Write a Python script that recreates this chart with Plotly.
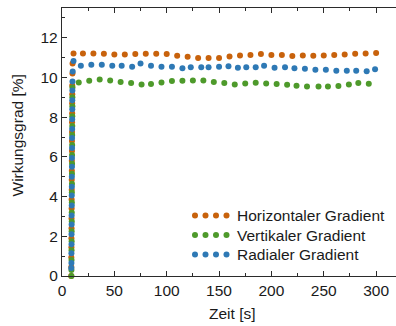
import plotly.graph_objects as go

# --- data -----------------------------------------------------------------
series_names = ["Horizontaler Gradient", "Vertikaler Gradient", "Radialer Gradient"]
series_colors = ["#C8620C", "#4E9A2B", "#2E79B5"]

# start-up ramp (fast sampling while the efficiency rises)
horiz_ramp_t = [8.8, 8.9, 8.9, 9.0, 9.0, 9.1, 9.1, 9.2, 9.2, 9.3, 9.3, 9.4,
                9.4, 9.5, 9.5, 9.6, 9.6, 9.7, 9.7, 9.8, 9.8, 10.0, 10.1]
horiz_ramp_v = [0.0, 0.45, 0.95, 1.45, 1.9, 2.4, 2.9, 3.4, 3.85, 4.35, 4.85, 5.3,
                5.8, 6.3, 6.8, 7.25, 7.75, 8.2, 8.7, 9.15, 9.6, 10.2, 10.7]
vert_ramp_t = [9.0, 9.0, 9.1, 9.1, 9.2, 9.2, 9.3, 9.3, 9.4, 9.4, 9.5, 9.5,
               9.6, 9.6, 9.7, 9.7, 9.8, 9.8, 9.9, 9.9, 10.0]
vert_ramp_v = [0.0, 0.3, 0.8, 1.3, 1.75, 2.25, 2.75, 3.2, 3.7, 4.2, 4.65, 5.15,
               5.65, 6.1, 6.6, 7.1, 7.55, 8.05, 8.55, 9.0, 9.5]
rad_ramp_t = [8.9, 9.0, 9.0, 9.1, 9.1, 9.2, 9.2, 9.3, 9.3, 9.4, 9.4, 9.5,
              9.5, 9.6, 9.6, 9.7, 9.7, 9.8, 9.8, 9.9, 10.0, 10.2]
rad_ramp_v = [0.4, 0.65, 1.15, 1.6, 2.1, 2.6, 3.05, 3.55, 4.05, 4.5, 5.0, 5.5,
              5.95, 6.45, 6.95, 7.4, 7.9, 8.4, 8.85, 9.35, 9.8, 10.3]

# steady operation
horiz_t = [11, 20, 30, 40, 50, 60, 70, 80, 90, 100, 110, 120, 130, 140, 150,
           160, 170, 180, 190, 200, 210, 220, 230, 240, 250, 260, 270, 280, 290, 300]
horiz_v = [11.21, 11.21, 11.21, 11.20, 11.16, 11.16, 11.18, 11.20, 11.20, 11.18,
           11.09, 11.04, 10.98, 10.98, 10.98, 11.06, 11.11, 11.13, 11.18, 11.13,
           11.13, 11.08, 11.11, 11.09, 11.11, 11.13, 11.16, 11.20, 11.21, 11.23]
vert_t = [16, 26, 36, 46, 56, 66, 76, 85, 95, 105, 115, 125, 135, 145, 155,
          165, 175, 185, 195, 205, 215, 224, 234, 245, 254, 264, 274, 283, 293]
vert_v = [9.75, 9.83, 9.90, 9.85, 9.77, 9.72, 9.65, 9.67, 9.75, 9.82, 9.83, 9.85,
          9.85, 9.77, 9.72, 9.65, 9.70, 9.73, 9.70, 9.67, 9.63, 9.58, 9.55, 9.55,
          9.55, 9.57, 9.65, 9.72, 9.68]
rad_t = [11, 18, 28, 38, 48, 57, 67, 75, 85, 95, 105, 115, 123, 133, 140, 150,
         159, 168, 176, 185, 193, 203, 213, 222, 232, 242, 252, 262, 272, 281, 291, 299]
rad_v = [10.83, 10.59, 10.64, 10.64, 10.59, 10.59, 10.54, 10.71, 10.59, 10.54,
         10.54, 10.47, 10.52, 10.51, 10.52, 10.54, 10.56, 10.49, 10.51, 10.52,
         10.59, 10.49, 10.51, 10.46, 10.44, 10.39, 10.39, 10.34, 10.34, 10.34,
         10.31, 10.41]

x_ticks = [0, 50, 100, 150, 200, 250, 300]
y_ticks = [0, 2, 4, 6, 8, 10, 12]

FONT = "Liberation Sans, Arial, sans-serif"
TEXT = "#1a1a1a"
AXIS = "#2b2b2b"

fig = go.Figure()
series = [
    (horiz_ramp_t + horiz_t, horiz_ramp_v + horiz_v),
    (vert_ramp_t + vert_t, vert_ramp_v + vert_v),
    (rad_ramp_t + rad_t, rad_ramp_v + rad_v),
]
for (t, v), name, col in zip(series, series_names, series_colors):
    fig.add_trace(go.Scatter(
        x=t, y=v, mode="markers", name=name, showlegend=False,
        marker=dict(size=6, color=col, line=dict(width=0)),
        cliponaxis=False,
    ))

# pixel -> paper helpers for the plot box (left 62, top 8, 334 x 268)
L, T, W, H = 62, 8, 334, 268
def px(xp):
    return (xp - L) / W
def py(yp):
    return (T + H - yp) / H

# hand-built legend: four dots per entry followed by the label
legend_rows = [215.5, 235, 254.5]
dot_cols = [195, 205.5, 216, 226.5]
shapes = []
annotations = []
for row_y, name, col in zip(legend_rows, series_names, series_colors):
    for dx in dot_cols:
        shapes.append(dict(
            type="circle", xref="paper", yref="paper",
            xsizemode="pixel", ysizemode="pixel",
            xanchor=px(dx), yanchor=py(row_y),
            x0=-3, x1=3, y0=-3, y1=3,
            fillcolor=col, line=dict(width=0),
        ))
    annotations.append(dict(
        xref="paper", yref="paper", x=px(235), y=py(row_y),
        xanchor="left", yanchor="middle", showarrow=False,
        text=name, font=dict(family=FONT, size=15.5, color=TEXT),
    ))

# axis titles
annotations.append(dict(
    xref="paper", yref="paper", x=px(17), y=py(135.5),
    xanchor="center", yanchor="middle", showarrow=False, textangle=-90,
    text="Wirkungsgrad [%]", font=dict(family=FONT, size=15.5, color=TEXT),
))
annotations.append(dict(
    xref="paper", yref="paper", x=px(232), y=py(313),
    xanchor="center", yanchor="middle", showarrow=False,
    text="Zeit [s]", font=dict(family=FONT, size=15.5, color=TEXT),
))

axis_common = dict(
    showgrid=False, zeroline=False, showline=True, linecolor=AXIS, linewidth=1.3,
    ticks="inside", ticklen=5, tickwidth=1.2, tickcolor=AXIS,
    tickfont=dict(family=FONT, size=15.5, color=TEXT),
)

fig.update_layout(
    width=396, height=326,
    margin=dict(l=62, r=0, t=8, b=50),
    paper_bgcolor="white", plot_bgcolor="white",
    showlegend=False,
    shapes=shapes, annotations=annotations,
    xaxis=dict(
        **axis_common, range=[0, 319], tickvals=x_ticks, mirror="ticks",
        minor=dict(dtick=25, tick0=0, ticks="inside", ticklen=3, tickcolor=AXIS, tickwidth=1),
    ),
    yaxis=dict(
        **axis_common, range=[0, 13.5], tickvals=y_ticks,
        minor=dict(dtick=1, tick0=0, ticks="inside", ticklen=3, tickcolor=AXIS, tickwidth=1),
    ),
)

fig.write_html("out.html")
